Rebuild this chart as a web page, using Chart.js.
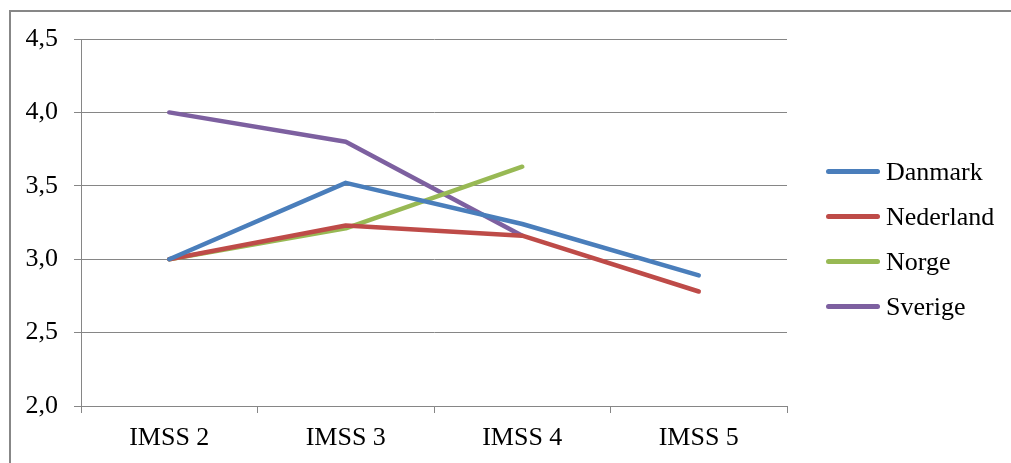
<!DOCTYPE html>
<html>
<head>
<meta charset="utf-8">
<script src="https://cdn.jsdelivr.net/npm/chart.js@4/dist/chart.umd.min.js"></script>
<style>
    html, body { margin: 0; padding: 0; background: #fff; overflow: hidden; }
    #wrap { position: relative; width: 1011px; height: 463px; }
    #frame { position: absolute; left: 9px; top: 10px; width: 1200px; height: 600px; border: 2px solid #878787; box-sizing: border-box; }
    #chartBox { position: absolute; left: 0; top: 0; width: 1011px; height: 463px; }
    #legend { position: absolute; left: 826px; top: 149px; font-family: "Liberation Serif", "Times New Roman", serif; font-size: 26px; color: #000; }
    .item { height: 45px; display: flex; align-items: center; }
    .item span.swatch { display: inline-block; width: 54px; height: 5px; border-radius: 3px; margin-right: 6px; }
</style>
</head>
<body>
<div id="wrap">
    <div id="frame"></div>
    <div id="chartBox"><canvas id="imssChart"></canvas></div>
    <div id="legend"></div>
</div>
<script>
var categories = ['IMSS 2', 'IMSS 3', 'IMSS 4', 'IMSS 5'];
var danmark = [3.00, 3.52, 3.24, 2.89];
var nederland = [3.00, 3.23, 3.16, 2.78];
var norge = [3.00, 3.21, 3.63, null];
var sverige = [4.00, 3.80, 3.16, null];
var yTicks = [2.0, 2.5, 3.0, 3.5, 4.0, 4.5];

document.addEventListener("DOMContentLoaded", function () {
    var gridColor = '#868686';
    var font = { family: '"Liberation Serif", "Times New Roman", serif', size: 26 };

    function series(label, data, color) {
        return {
            label: label,
            data: data,
            borderColor: color,
            backgroundColor: color,
            borderWidth: 4.5,
            borderCapStyle: 'round',
            borderJoinStyle: 'round',
            tension: 0,
            fill: false,
            pointRadius: 0,
            pointHoverRadius: 0
        };
    }

    var ctx = document.getElementById('imssChart').getContext('2d');
    var chart = new Chart(ctx, {
        type: 'line',
        data: {
            labels: categories,
            datasets: [
                series('Danmark', danmark, '#4A7EBB'),
                series('Nederland', nederland, '#BE4B48'),
                series('Norge', norge, '#98B954'),
                series('Sverige', sverige, '#7D60A0')
            ]
        },
        options: {
            responsive: true,
            maintainAspectRatio: false,
            animation: false,
            layout: {
                padding: { left: 0, top: 39, right: 224, bottom: 0 }
            },
            plugins: {
                legend: { display: false },
                tooltip: { enabled: false }
            },
            scales: {
                x: {
                    offset: true,
                    grid: { offset: true, drawOnChartArea: false, color: gridColor, tickLength: 7 },
                    border: { color: gridColor, width: 1 },
                    ticks: { color: '#000', font: font, padding: 10, maxRotation: 0 },
                    afterFit: function (scale) { scale.height = 57; }
                },
                y: {
                    min: 2,
                    max: 4.5,
                    afterBuildTicks: function (scale) {
                        scale.ticks = yTicks.map(function (v) { return { value: v }; });
                    },
                    grid: { color: gridColor, tickLength: 7 },
                    border: { color: gridColor, width: 1 },
                    ticks: {
                        color: '#000',
                        font: font,
                        padding: 16,
                        callback: function (v) { return Number(v).toFixed(1).replace('.', ','); }
                    },
                    afterFit: function (scale) { scale.width = 81; }
                }
            }
        }
    });

    var legendEl = document.getElementById('legend');
    chart.data.datasets.forEach(function (ds) {
        var row = document.createElement('div');
        row.className = 'item';
        var sw = document.createElement('span');
        sw.className = 'swatch';
        sw.style.background = ds.borderColor;
        var txt = document.createElement('span');
        txt.textContent = ds.label;
        row.appendChild(sw);
        row.appendChild(txt);
        legendEl.appendChild(row);
    });
});
</script>
</body>
</html>
